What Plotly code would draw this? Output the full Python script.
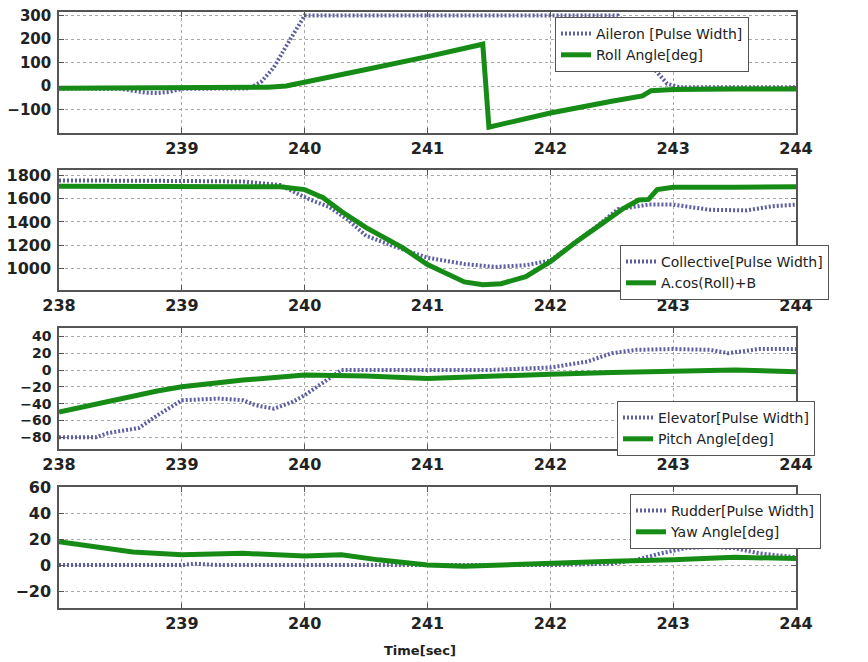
import plotly.graph_objects as go

# ---------------- data ----------------
# Panel 1: aileron / roll
t_ail = [238.0, 238.3, 238.5, 238.6, 238.7, 238.8, 238.9, 239.0, 239.3, 239.55, 239.65, 239.75,
         239.85, 239.95, 240.0, 240.5, 241.0, 241.5, 242.0, 242.55, 242.65, 242.75, 242.85,
         242.95, 243.05, 243.5, 244.0]
aileron = [-10, -10, -12, -20, -28, -30, -25, -12, -10, -10, 20, 80, 170, 260, 300, 300, 300,
           300, 300, 300, 240, 150, 70, 10, -5, -5, -5]
t_roll = [238.0, 238.5, 239.0, 239.5, 239.7, 239.85, 240.0, 240.5, 241.0, 241.45, 241.5, 242.0,
          242.5, 242.75, 242.82, 243.0, 243.5, 244.0]
roll = [-10, -8, -10, -8, -5, 0, 15, 70, 125, 178, -175, -115, -65, -42, -20, -15, -13, -13]

# Panel 2: collective / A.cos(Roll)+B
t_col = [238.0, 238.5, 239.0, 239.5, 239.8, 239.95, 240.05, 240.2, 240.35, 240.5, 240.75, 241.0,
         241.3, 241.55, 241.8, 242.0, 242.2, 242.4, 242.55, 242.8, 243.0, 243.3, 243.6, 243.8, 244.0]
collective = [1760, 1760, 1755, 1750, 1720, 1640, 1590, 1530, 1420, 1280, 1180, 1090, 1035, 1010,
              1025, 1065, 1220, 1380, 1510, 1550, 1550, 1505, 1500, 1535, 1550]
t_cos = [238.0, 238.5, 239.0, 239.5, 239.8, 240.0, 240.15, 240.3, 240.5, 240.8, 241.0, 241.3,
         241.45, 241.6, 241.8, 242.0, 242.2, 242.4, 242.6, 242.72, 242.8, 242.87, 243.0, 243.5, 244.0]
cos_roll = [1710, 1710, 1715, 1712, 1705, 1680, 1610, 1490, 1350, 1175, 1030, 880, 855, 865, 925,
            1055, 1220, 1370, 1520, 1590, 1595, 1680, 1700, 1700, 1705]

# Panel 3: elevator / pitch
t_elev = [238.0, 238.3, 238.4, 238.65, 238.8, 238.93, 239.0, 239.3, 239.5, 239.6, 239.75, 239.9,
          240.0, 240.15, 240.3, 240.5, 241.0, 241.5, 242.0, 242.3, 242.5, 242.7, 243.0, 243.3,
          243.45, 243.7, 244.0]
elevator = [-80, -80, -75, -69, -54, -42, -36, -34, -36, -42, -46, -38, -30, -15, 0, 0, 0, 0, 3,
            10, 20, 24, 25, 24, 20, 25, 25]
t_pitch = [238.0, 238.5, 238.8, 239.0, 239.5, 240.0, 240.5, 241.0, 241.5, 242.0, 242.5, 243.0,
           243.5, 244.0]
pitch = [-50, -34, -25, -20, -12, -6, -7, -10, -7, -5, -3, -1, 0, -2]

# Panel 4: rudder / yaw
t_rud = [238.0, 239.0, 239.1, 239.3, 240.0, 241.0, 242.0, 242.5, 242.7, 242.9, 243.1, 243.3,
         243.5, 243.7, 244.0]
rudder = [0, 0, 1, 0, 0, 0, 0, 1, 4, 9, 13, 14, 13, 9, 6]
t_yaw = [238.0, 238.3, 238.6, 239.0, 239.5, 240.0, 240.3, 240.6, 241.0, 241.3, 241.6, 242.0,
         242.5, 243.0, 243.5, 244.0]
yaw = [18, 14, 10, 8, 9, 7, 8, 4, 0, -1, 0, 2, 3, 4, 6, 5]

x_ticks_full = [238, 239, 240, 241, 242, 243, 244]
x_ticks_short = [239, 240, 241, 242, 243, 244]
y_ticks = [[-100, 0, 100, 200, 300], [1000, 1200, 1400, 1600, 1800],
           [-80, -60, -40, -20, 0, 20, 40], [-20, 0, 20, 40, 60]]
y_ranges = [[-200, 315], [810, 1850], [-94, 50], [-33, 60]]

names = [("Aileron [Pulse Width]", "Roll Angle[deg]"),
         ("Collective[Pulse Width]", "A.cos(Roll)+B"),
         ("Elevator[Pulse Width]", "Pitch Angle[deg]"),
         ("Rudder[Pulse Width]", "Yaw Angle[deg]")]

series = [(t_ail, aileron, t_roll, roll), (t_col, collective, t_cos, cos_roll),
          (t_elev, elevator, t_pitch, pitch), (t_rud, rudder, t_yaw, yaw)]

# ---------------- figure ----------------
# the page body has an 8px margin, so the figure is drawn 8px smaller and offset
OFF = 8
W, H = 868 - OFF, 662 - OFF
ml, mr, mt, mb = 59 - OFF, 72, 12 - OFF, 54
ph = H - mt - mb
pw = W - ml - mr
panel_px = [(12, 133), (170, 290), (328, 449), (487, 608)]   # page pixels


def py(p):
    return (H - mb - (p - OFF)) / ph


def px(p):
    return (p - OFF - ml) / pw


fig = go.Figure()
DOT = "#5e5ea2"
GREEN = "#168c16"
FONT = "DejaVu Sans"
legend_pos = [(555, 17), (620, 245), (617, 401), (630, 494)]
ytick_sizes = [15, 16, 14, 16]

for i, (tx, vx, tg, vg) in enumerate(series):
    k = "" if i == 0 else str(i + 1)
    leg = "legend" if i == 0 else "legend" + str(i + 1)
    fig.add_trace(go.Scatter(x=tx, y=vx, mode="lines", name=names[i][0],
                             line=dict(color=DOT, width=4, dash="2px,2px"),
                             xaxis="x" + k, yaxis="y" + k, legend=leg))
    fig.add_trace(go.Scatter(x=tg, y=vg, mode="lines", name=names[i][1],
                             line=dict(color=GREEN, width=5),
                             xaxis="x" + k, yaxis="y" + k, legend=leg))


def tickfont(size):
    return dict(family=FONT, size=size, color="#222", weight="bold")


axis_common = dict(showline=True, mirror="ticks", linecolor="#555", linewidth=1.5,
                   ticks="inside", ticklen=5, tickcolor="#555", showgrid=True,
                   gridcolor="#a8a8a8", griddash="dot", gridwidth=1, zeroline=False,
                   ticklabeloverflow="allow")

layout = dict(width=W, height=H,
              margin=dict(l=ml, r=mr, t=mt, b=mb, autoexpand=False),
              paper_bgcolor="white", plot_bgcolor="white", showlegend=True)

for i in range(4):
    k = "" if i == 0 else str(i + 1)
    top, bot = panel_px[i]
    xt = x_ticks_short if i in (0, 3) else x_ticks_full
    layout["xaxis" + k] = dict(axis_common, domain=[0, 1], range=[238, 244],
                               tickvals=x_ticks_full, tickfont=tickfont(16),
                               ticktext=[str(v) if v in xt else "" for v in x_ticks_full],
                               ticklabelstandoff=0, anchor="y" + k)
    layout["yaxis" + k] = dict(axis_common, domain=[py(bot), py(top)], range=y_ranges[i],
                               tickvals=y_ticks[i], tickfont=tickfont(ytick_sizes[i]),
                               ticklabelstandoff=3, anchor="x" + k)
    lx, ly = legend_pos[i]
    leg = "legend" if i == 0 else "legend" + str(i + 1)
    layout[leg] = dict(x=px(lx), y=py(ly), xanchor="left", yanchor="top",
                       xref="paper", yref="paper", bgcolor="white", bordercolor="#555",
                       borderwidth=1, font=dict(family=FONT, size=14, color="#222"),
                       itemwidth=30, tracegroupgap=0)

fig.update_layout(**layout)
fig.add_annotation(text="Time[sec]", x=px(420), y=py(650), xref="paper", yref="paper",
                   xanchor="center", yanchor="middle", showarrow=False,
                   font=dict(family=FONT, size=13, color="#222", weight="bold"))

fig.write_html("out.html")
